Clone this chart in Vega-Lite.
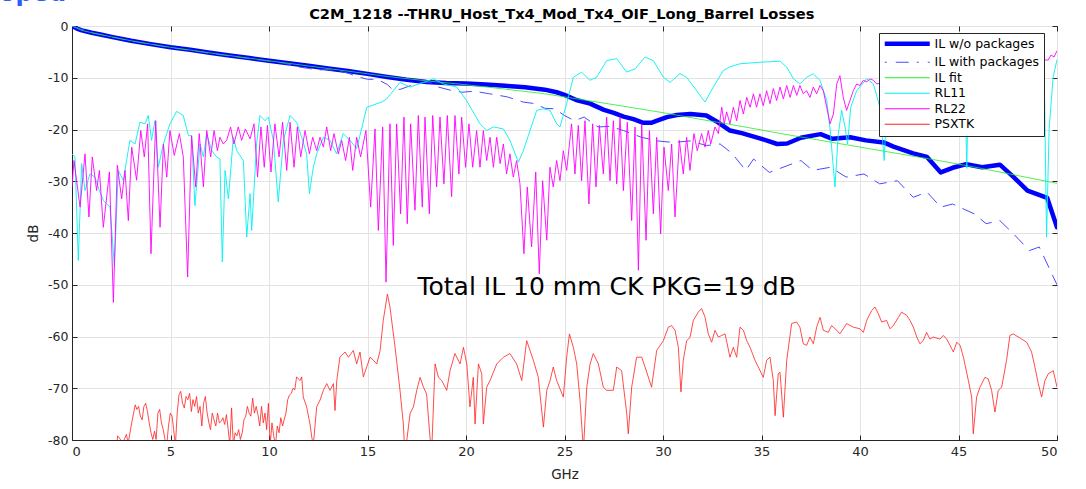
{
"$schema":"https://vega.github.io/schema/vega-lite/v6.json",
"width":985,"height":414,
"autosize":"none",
"padding":{"left":72,"top":26,"right":29,"bottom":49},
"background":"white",
"config":{"view":{"stroke":"#262626","strokeWidth":1},
 "axis":{"domainColor":"#262626","tickColor":"#262626","tickSize":-5,"grid":true,"gridColor":"#e3e3e3","labelFont":"DejaVu Sans","labelFontSize":12.5,"labelColor":"#262626","titleFont":"DejaVu Sans","titleFontSize":13.5,"titleFontWeight":"normal","titleColor":"#262626","labelExpr":"replace(datum.label, '\u2212', '-')"}},
"resolve":{"scale":{"x":"independent","y":"independent"},"axis":{"x":"independent","y":"independent"}},
"layer":[
{"encoding":{
 "x":{"field":"f","type":"quantitative","scale":{"domain":[0,50],"nice":false},"axis":{"orient":"bottom","values":[0,5,10,15,20,25,30,35,40,45,50],"title":"GHz","labelPadding":10,"labelFontSize":13,"titlePadding":9}},
 "y":{"field":"v","type":"quantitative","scale":{"domain":[-80,0],"nice":false},"axis":{"orient":"left","values":[-80,-70,-60,-50,-40,-30,-20,-10,0],"title":"dB","labelPadding":9,"titlePadding":7}},
 "color":{"field":"s","type":"nominal","scale":{"domain":["IL w/o packages","IL with packages","IL fit","RL11","RL22","PSXTK"],"range":["#0000ff","#4a4aff","#22ee22","#00f0f0","#ff00ff","#ff2020"]},
  "legend":{"title":null,"orient":"none","legendX":807,"legendY":7,"symbolType":"stroke","symbolSize":2025,"symbolOffset":17.5,"labelFont":"DejaVu Sans","labelFontSize":12.5,"labelColor":"#000000","labelAlign":"left","labelLimit":300,"fillColor":"#ffffff","strokeColor":"#262626","padding":4.5,"rowPadding":2.5,"labelOffset":21,
   "encode":{"symbols":{"update":{"strokeWidth":{"signal":"datum.value === 'IL w/o packages' ? 4.5 : 1.2"},"strokeDash":{"signal":"datum.value === 'IL with packages' ? [2,9,13,8] : [1,0]"}}}}}}
 },
 "layer":[
{"mark":{"type":"line","clip":true,"strokeWidth":4.5,"strokeJoin":"round","strokeCap":"round"},
"data":{"values":[
{"s":"IL w/o packages","f":0,"v":0},{"s":"IL w/o packages","f":0.25,"v":-0.5},{"s":"IL w/o packages","f":0.5,"v":-0.85},{"s":"IL w/o packages","f":1,"v":-1.3},{"s":"IL w/o packages","f":1.5,"v":-1.7},{"s":"IL w/o packages","f":2,"v":-2.1},{"s":"IL w/o packages","f":3,"v":-2.85},{"s":"IL w/o packages","f":4,"v":-3.5},{"s":"IL w/o packages","f":5,"v":-4.1},{"s":"IL w/o packages","f":6,"v":-4.6},{"s":"IL w/o packages","f":7,"v":-5.15},{"s":"IL w/o packages","f":8,"v":-5.7},{"s":"IL w/o packages","f":9,"v":-6.2},{"s":"IL w/o packages","f":10,"v":-6.7},{"s":"IL w/o packages","f":11,"v":-7.2},{"s":"IL w/o packages","f":12,"v":-7.7},{"s":"IL w/o packages","f":13,"v":-8.2},{"s":"IL w/o packages","f":14,"v":-8.7},{"s":"IL w/o packages","f":15,"v":-9.25},{"s":"IL w/o packages","f":16,"v":-9.85},{"s":"IL w/o packages","f":17,"v":-10.4},{"s":"IL w/o packages","f":18,"v":-10.8},{"s":"IL w/o packages","f":19,"v":-11.0},{"s":"IL w/o packages","f":20,"v":-11.1},{"s":"IL w/o packages","f":21,"v":-11.3},{"s":"IL w/o packages","f":22,"v":-11.55},{"s":"IL w/o packages","f":23,"v":-11.85},{"s":"IL w/o packages","f":24,"v":-12.3},{"s":"IL w/o packages","f":24.6,"v":-12.8},{"s":"IL w/o packages","f":25,"v":-13.3},{"s":"IL w/o packages","f":25.6,"v":-14.3},{"s":"IL w/o packages","f":26.3,"v":-15.0},{"s":"IL w/o packages","f":27,"v":-16.2},{"s":"IL w/o packages","f":27.5,"v":-16.8},{"s":"IL w/o packages","f":28,"v":-17.5},{"s":"IL w/o packages","f":28.5,"v":-18.0},{"s":"IL w/o packages","f":29,"v":-18.7},{"s":"IL w/o packages","f":29.4,"v":-18.7},{"s":"IL w/o packages","f":29.7,"v":-18.3},{"s":"IL w/o packages","f":30.2,"v":-17.6},{"s":"IL w/o packages","f":30.7,"v":-17.2},{"s":"IL w/o packages","f":31.4,"v":-17.0},{"s":"IL w/o packages","f":32.2,"v":-17.3},{"s":"IL w/o packages","f":32.7,"v":-18.4},{"s":"IL w/o packages","f":33.4,"v":-20.2},{"s":"IL w/o packages","f":34,"v":-20.7},{"s":"IL w/o packages","f":35,"v":-21.8},{"s":"IL w/o packages","f":35.8,"v":-22.8},{"s":"IL w/o packages","f":36.3,"v":-22.7},{"s":"IL w/o packages","f":37,"v":-21.6},{"s":"IL w/o packages","f":38,"v":-20.9},{"s":"IL w/o packages","f":38.6,"v":-21.8},{"s":"IL w/o packages","f":39.5,"v":-21.5},{"s":"IL w/o packages","f":40.3,"v":-22.1},{"s":"IL w/o packages","f":41.2,"v":-22.5},{"s":"IL w/o packages","f":41.7,"v":-23.3},{"s":"IL w/o packages","f":42.7,"v":-24.6},{"s":"IL w/o packages","f":43.4,"v":-25.3},{"s":"IL w/o packages","f":44.1,"v":-28.3},{"s":"IL w/o packages","f":44.7,"v":-27.4},{"s":"IL w/o packages","f":45.4,"v":-26.7},{"s":"IL w/o packages","f":46.2,"v":-27.3},{"s":"IL w/o packages","f":47.1,"v":-26.8},{"s":"IL w/o packages","f":47.8,"v":-29.2},{"s":"IL w/o packages","f":48.5,"v":-31.8},{"s":"IL w/o packages","f":49.5,"v":-33.2},{"s":"IL w/o packages","f":50,"v":-38.9}
]}},
{"mark":{"type":"line","clip":true,"strokeWidth":1,"strokeDash":[13,8]},
"data":{"values":[
{"s":"IL with packages","f":0,"v":0},{"s":"IL with packages","f":1,"v":-1.3},{"s":"IL with packages","f":2,"v":-2.1},{"s":"IL with packages","f":3,"v":-2.9},{"s":"IL with packages","f":4,"v":-3.55},{"s":"IL with packages","f":5,"v":-4.15},{"s":"IL with packages","f":6,"v":-4.7},{"s":"IL with packages","f":7,"v":-5.25},{"s":"IL with packages","f":8,"v":-5.8},{"s":"IL with packages","f":9,"v":-6.3},{"s":"IL with packages","f":10,"v":-6.8},{"s":"IL with packages","f":10.5,"v":-7.0},{"s":"IL with packages","f":11,"v":-7.4},{"s":"IL with packages","f":11.5,"v":-7.9},{"s":"IL with packages","f":12,"v":-8.2},{"s":"IL with packages","f":12.5,"v":-8.5},{"s":"IL with packages","f":13,"v":-8.4},{"s":"IL with packages","f":13.5,"v":-8.7},{"s":"IL with packages","f":14,"v":-9.1},{"s":"IL with packages","f":14.5,"v":-9.8},{"s":"IL with packages","f":15,"v":-10.3},{"s":"IL with packages","f":15.5,"v":-10.3},{"s":"IL with packages","f":16,"v":-11.3},{"s":"IL with packages","f":16.3,"v":-12.4},{"s":"IL with packages","f":16.7,"v":-12.2},{"s":"IL with packages","f":17.2,"v":-11.5},{"s":"IL with packages","f":17.8,"v":-10.9},{"s":"IL with packages","f":18.3,"v":-11.0},{"s":"IL with packages","f":18.6,"v":-11.8},{"s":"IL with packages","f":19.2,"v":-12.4},{"s":"IL with packages","f":19.8,"v":-12.8},{"s":"IL with packages","f":20.4,"v":-12.6},{"s":"IL with packages","f":21.2,"v":-13.1},{"s":"IL with packages","f":22.1,"v":-13.7},{"s":"IL with packages","f":22.9,"v":-14.7},{"s":"IL with packages","f":23.5,"v":-15.0},{"s":"IL with packages","f":24.0,"v":-15.9},{"s":"IL with packages","f":24.5,"v":-16.0},{"s":"IL with packages","f":25.0,"v":-17.3},{"s":"IL with packages","f":25.5,"v":-18.3},{"s":"IL with packages","f":26.0,"v":-17.6},{"s":"IL with packages","f":26.7,"v":-19.5},{"s":"IL with packages","f":27.3,"v":-19.4},{"s":"IL with packages","f":28,"v":-20.2},{"s":"IL with packages","f":28.9,"v":-21.5},{"s":"IL with packages","f":29.7,"v":-22.2},{"s":"IL with packages","f":30.5,"v":-22.5},{"s":"IL with packages","f":31.4,"v":-22.2},{"s":"IL with packages","f":32.2,"v":-23.1},{"s":"IL with packages","f":32.9,"v":-22.8},{"s":"IL with packages","f":33.5,"v":-24.6},{"s":"IL with packages","f":34.2,"v":-27.9},{"s":"IL with packages","f":34.6,"v":-25.7},{"s":"IL with packages","f":35.4,"v":-28.3},{"s":"IL with packages","f":36.3,"v":-27.0},{"s":"IL with packages","f":37.0,"v":-26.0},{"s":"IL with packages","f":37.6,"v":-27.9},{"s":"IL with packages","f":38.5,"v":-27.3},{"s":"IL with packages","f":39.3,"v":-29.2},{"s":"IL with packages","f":40.2,"v":-28.6},{"s":"IL with packages","f":41.0,"v":-30.5},{"s":"IL with packages","f":41.9,"v":-29.9},{"s":"IL with packages","f":42.7,"v":-33.1},{"s":"IL with packages","f":43.4,"v":-32.1},{"s":"IL with packages","f":44.1,"v":-35.0},{"s":"IL with packages","f":44.7,"v":-34.4},{"s":"IL with packages","f":45.8,"v":-36.3},{"s":"IL with packages","f":46.4,"v":-38.2},{"s":"IL with packages","f":47.1,"v":-37.6},{"s":"IL with packages","f":47.8,"v":-40.2},{"s":"IL with packages","f":48.6,"v":-43.4},{"s":"IL with packages","f":49.1,"v":-42.7},{"s":"IL with packages","f":50,"v":-50.0}
]}},
{"mark":{"type":"line","clip":true,"strokeWidth":0.8},
"data":{"values":[
{"s":"IL fit","f":0,"v":0},{"s":"IL fit","f":0.5,"v":-0.85},{"s":"IL fit","f":1,"v":-1.3},{"s":"IL fit","f":2,"v":-2.1},{"s":"IL fit","f":3,"v":-2.85},{"s":"IL fit","f":4,"v":-3.5},{"s":"IL fit","f":5,"v":-4.12},{"s":"IL fit","f":6,"v":-4.65},{"s":"IL fit","f":7,"v":-5.2},{"s":"IL fit","f":8,"v":-5.72},{"s":"IL fit","f":9,"v":-6.22},{"s":"IL fit","f":10,"v":-6.72},{"s":"IL fit","f":12,"v":-7.72},{"s":"IL fit","f":14,"v":-8.72},{"s":"IL fit","f":16,"v":-9.75},{"s":"IL fit","f":18,"v":-10.6},{"s":"IL fit","f":20,"v":-11.35},{"s":"IL fit","f":22,"v":-12.2},{"s":"IL fit","f":24,"v":-13.1},{"s":"IL fit","f":26,"v":-14.3},{"s":"IL fit","f":28,"v":-15.5},{"s":"IL fit","f":30,"v":-16.75},{"s":"IL fit","f":32,"v":-18.1},{"s":"IL fit","f":34,"v":-19.4},{"s":"IL fit","f":36,"v":-20.8},{"s":"IL fit","f":38,"v":-22.1},{"s":"IL fit","f":40,"v":-23.4},{"s":"IL fit","f":42,"v":-24.7},{"s":"IL fit","f":44,"v":-26.0},{"s":"IL fit","f":46,"v":-27.4},{"s":"IL fit","f":48,"v":-28.9},{"s":"IL fit","f":50,"v":-30.4}
]}},
{"mark":{"type":"line","clip":true,"strokeWidth":0.9},
"data":{"values":[
{"s":"RL11","f":0,"v":-24.7},{"s":"RL11","f":0.15,"v":-25.3},{"s":"RL11","f":0.32,"v":-45.3},{"s":"RL11","f":0.49,"v":-26.6},{"s":"RL11","f":0.66,"v":-31.8},{"s":"RL11","f":0.91,"v":-28.6},{"s":"RL11","f":1.17,"v":-29.2},{"s":"RL11","f":1.39,"v":-31.8},{"s":"RL11","f":1.59,"v":-33.7},{"s":"RL11","f":1.93,"v":-35.0},{"s":"RL11","f":2.15,"v":-46.3},{"s":"RL11","f":2.35,"v":-27.9},{"s":"RL11","f":2.61,"v":-29.9},{"s":"RL11","f":2.77,"v":-26.0},{"s":"RL11","f":2.94,"v":-22.1},{"s":"RL11","f":3.2,"v":-22.8},{"s":"RL11","f":3.45,"v":-18.6},{"s":"RL11","f":3.71,"v":-18.9},{"s":"RL11","f":3.87,"v":-17.3},{"s":"RL11","f":4.04,"v":-22.1},{"s":"RL11","f":4.21,"v":-18.3},{"s":"RL11","f":4.38,"v":-27.3},{"s":"RL11","f":4.64,"v":-22.8},{"s":"RL11","f":4.97,"v":-18.9},{"s":"RL11","f":5.31,"v":-16.5},{"s":"RL11","f":5.65,"v":-17.3},{"s":"RL11","f":5.91,"v":-21.2},{"s":"RL11","f":6.07,"v":-21.2},{"s":"RL11","f":6.24,"v":-34.7},{"s":"RL11","f":6.5,"v":-22.8},{"s":"RL11","f":6.67,"v":-25.3},{"s":"RL11","f":6.84,"v":-20.8},{"s":"RL11","f":7.09,"v":-24.1},{"s":"RL11","f":7.34,"v":-25.3},{"s":"RL11","f":7.51,"v":-25.7},{"s":"RL11","f":7.63,"v":-45.6},{"s":"RL11","f":7.77,"v":-27.9},{"s":"RL11","f":7.94,"v":-33.4},{"s":"RL11","f":8.19,"v":-21.5},{"s":"RL11","f":8.36,"v":-24.1},{"s":"RL11","f":8.7,"v":-26.0},{"s":"RL11","f":8.87,"v":-40.8},{"s":"RL11","f":9.04,"v":-32.4},{"s":"RL11","f":9.12,"v":-39.5},{"s":"RL11","f":9.37,"v":-22.8},{"s":"RL11","f":9.54,"v":-17.3},{"s":"RL11","f":9.8,"v":-18.3},{"s":"RL11","f":9.97,"v":-17.6},{"s":"RL11","f":10.22,"v":-22.1},{"s":"RL11","f":10.47,"v":-34.0},{"s":"RL11","f":10.73,"v":-22.1},{"s":"RL11","f":11.07,"v":-17.3},{"s":"RL11","f":11.4,"v":-18.6},{"s":"RL11","f":11.66,"v":-21.5},{"s":"RL11","f":11.91,"v":-24.7},{"s":"RL11","f":12.05,"v":-32.4},{"s":"RL11","f":12.25,"v":-27.3},{"s":"RL11","f":12.42,"v":-24.7},{"s":"RL11","f":12.76,"v":-21.5},{"s":"RL11","f":13.1,"v":-22.1},{"s":"RL11","f":13.43,"v":-24.7},{"s":"RL11","f":13.77,"v":-20.8},{"s":"RL11","f":14.11,"v":-22.1},{"s":"RL11","f":14.45,"v":-23.7},{"s":"RL11","f":14.7,"v":-19.9},{"s":"RL11","f":14.96,"v":-15.7},{"s":"RL11","f":15.21,"v":-15.4},{"s":"RL11","f":15.47,"v":-15.0},{"s":"RL11","f":15.72,"v":-14.7},{"s":"RL11","f":15.97,"v":-14.1},{"s":"RL11","f":16.31,"v":-12.5},{"s":"RL11","f":16.65,"v":-10.9},{"s":"RL11","f":17.16,"v":-11.8},{"s":"RL11","f":17.84,"v":-10.9},{"s":"RL11","f":18.35,"v":-10.2},{"s":"RL11","f":18.85,"v":-11.2},{"s":"RL11","f":19.53,"v":-11.8},{"s":"RL11","f":20.03,"v":-14.4},{"s":"RL11","f":20.37,"v":-16.65},{"s":"RL11","f":20.71,"v":-18.9},{"s":"RL11","f":21.05,"v":-20.2},{"s":"RL11","f":21.39,"v":-19.5},{"s":"RL11","f":21.9,"v":-19.9},{"s":"RL11","f":22.23,"v":-22.1},{"s":"RL11","f":22.66,"v":-26.3},{"s":"RL11","f":22.91,"v":-24.1},{"s":"RL11","f":23.25,"v":-20.2},{"s":"RL11","f":23.59,"v":-16.3},{"s":"RL11","f":23.93,"v":-16.0},{"s":"RL11","f":24.26,"v":-16.3},{"s":"RL11","f":24.6,"v":-18.9},{"s":"RL11","f":24.77,"v":-19.5},{"s":"RL11","f":25.11,"v":-15.0},{"s":"RL11","f":25.45,"v":-9.9},{"s":"RL11","f":25.87,"v":-8.9},{"s":"RL11","f":26.29,"v":-10.5},{"s":"RL11","f":26.63,"v":-9.9},{"s":"RL11","f":27.14,"v":-6.7},{"s":"RL11","f":27.65,"v":-6.3},{"s":"RL11","f":28.15,"v":-8.9},{"s":"RL11","f":28.58,"v":-8.3},{"s":"RL11","f":29.09,"v":-6.0},{"s":"RL11","f":29.51,"v":-6.7},{"s":"RL11","f":30.02,"v":-9.9},{"s":"RL11","f":30.36,"v":-10.9},{"s":"RL11","f":30.86,"v":-9.2},{"s":"RL11","f":31.2,"v":-9.9},{"s":"RL11","f":32.13,"v":-14.7},{"s":"RL11","f":32.55,"v":-11.8},{"s":"RL11","f":33.06,"v":-8.6},{"s":"RL11","f":33.4,"v":-7.9},{"s":"RL11","f":33.91,"v":-7.3},{"s":"RL11","f":34.92,"v":-7.0},{"s":"RL11","f":35.94,"v":-6.8},{"s":"RL11","f":36.28,"v":-7.95},{"s":"RL11","f":36.62,"v":-10.2},{"s":"RL11","f":36.95,"v":-11.2},{"s":"RL11","f":37.29,"v":-9.9},{"s":"RL11","f":37.63,"v":-9.24},{"s":"RL11","f":37.97,"v":-10.5},{"s":"RL11","f":38.31,"v":-14.4},{"s":"RL11","f":38.48,"v":-19.9},{"s":"RL11","f":38.73,"v":-31.1},{"s":"RL11","f":38.9,"v":-20.8},{"s":"RL11","f":39.07,"v":-16.3},{"s":"RL11","f":39.24,"v":-19.5},{"s":"RL11","f":39.37,"v":-22.8},{"s":"RL11","f":39.53,"v":-15.7},{"s":"RL11","f":39.83,"v":-12.5},{"s":"RL11","f":40.34,"v":-10.2},{"s":"RL11","f":40.68,"v":-11.2},{"s":"RL11","f":41.01,"v":-15.7},{"s":"RL11","f":41.23,"v":-26.0},{"s":"RL11","f":41.35,"v":-15.7},{"s":"RL11","f":42.0,"v":-11.0},{"s":"RL11","f":43.0,"v":-9.0},{"s":"RL11","f":44.0,"v":-8.5},{"s":"RL11","f":45.0,"v":-9.5},{"s":"RL11","f":45.33,"v":-12.0},{"s":"RL11","f":45.42,"v":-27.5},{"s":"RL11","f":45.5,"v":-12.0},{"s":"RL11","f":46.2,"v":-8.0},{"s":"RL11","f":47.2,"v":-7.0},{"s":"RL11","f":48.2,"v":-7.5},{"s":"RL11","f":49.0,"v":-9.5},{"s":"RL11","f":49.37,"v":-14.0},{"s":"RL11","f":49.47,"v":-40.8},{"s":"RL11","f":49.6,"v":-20.0},{"s":"RL11","f":49.8,"v":-10.0},{"s":"RL11","f":50,"v":-6.5}
]}},
{"mark":{"type":"line","clip":true,"strokeWidth":0.9},
"data":{"values":[
{"s":"RL22","f":0,"v":-31.1},{"s":"RL22","f":0.1,"v":-26.0},{"s":"RL22","f":0.41,"v":-35.0},{"s":"RL22","f":0.66,"v":-24.7},{"s":"RL22","f":0.86,"v":-36.9},{"s":"RL22","f":1.03,"v":-25.3},{"s":"RL22","f":1.25,"v":-31.8},{"s":"RL22","f":1.39,"v":-27.9},{"s":"RL22","f":1.59,"v":-38.9},{"s":"RL22","f":1.9,"v":-28.2},{"s":"RL22","f":2.1,"v":-53.4},{"s":"RL22","f":2.3,"v":-26.9},{"s":"RL22","f":2.52,"v":-33.4},{"s":"RL22","f":2.69,"v":-27.9},{"s":"RL22","f":2.86,"v":-37.6},{"s":"RL22","f":3.03,"v":-23.4},{"s":"RL22","f":3.28,"v":-29.8},{"s":"RL22","f":3.49,"v":-20.2},{"s":"RL22","f":3.67,"v":-25.3},{"s":"RL22","f":3.84,"v":-18.9},{"s":"RL22","f":4.01,"v":-44.0},{"s":"RL22","f":4.25,"v":-18.3},{"s":"RL22","f":4.47,"v":-38.9},{"s":"RL22","f":4.64,"v":-22.8},{"s":"RL22","f":4.81,"v":-29.2},{"s":"RL22","f":4.97,"v":-20.2},{"s":"RL22","f":5.19,"v":-25.0},{"s":"RL22","f":5.45,"v":-20.8},{"s":"RL22","f":5.65,"v":-25.3},{"s":"RL22","f":5.87,"v":-48.5},{"s":"RL22","f":6.07,"v":-21.2},{"s":"RL22","f":6.28,"v":-31.1},{"s":"RL22","f":6.46,"v":-20.8},{"s":"RL22","f":6.67,"v":-31.1},{"s":"RL22","f":6.84,"v":-20.2},{"s":"RL22","f":7.04,"v":-25.3},{"s":"RL22","f":7.21,"v":-20.2},{"s":"RL22","f":7.38,"v":-24.1},{"s":"RL22","f":7.51,"v":-21.5},{"s":"RL22","f":7.68,"v":-22.8},{"s":"RL22","f":7.85,"v":-22.1},{"s":"RL22","f":8.05,"v":-19.5},{"s":"RL22","f":8.22,"v":-22.8},{"s":"RL22","f":8.44,"v":-19.5},{"s":"RL22","f":8.61,"v":-22.1},{"s":"RL22","f":8.8,"v":-19.9},{"s":"RL22","f":9.04,"v":-21.8},{"s":"RL22","f":9.24,"v":-18.9},{"s":"RL22","f":9.42,"v":-29.2},{"s":"RL22","f":9.59,"v":-19.5},{"s":"RL22","f":9.76,"v":-27.3},{"s":"RL22","f":9.92,"v":-19.2},{"s":"RL22","f":10.1,"v":-28.2},{"s":"RL22","f":10.3,"v":-18.9},{"s":"RL22","f":10.51,"v":-25.3},{"s":"RL22","f":10.69,"v":-18.6},{"s":"RL22","f":10.9,"v":-27.9},{"s":"RL22","f":11.07,"v":-18.6},{"s":"RL22","f":11.27,"v":-27.3},{"s":"RL22","f":11.44,"v":-19.5},{"s":"RL22","f":11.61,"v":-25.3},{"s":"RL22","f":11.83,"v":-20.2},{"s":"RL22","f":12.05,"v":-24.7},{"s":"RL22","f":12.22,"v":-21.5},{"s":"RL22","f":12.42,"v":-24.1},{"s":"RL22","f":12.59,"v":-21.5},{"s":"RL22","f":12.76,"v":-23.4},{"s":"RL22","f":12.93,"v":-19.5},{"s":"RL22","f":13.13,"v":-24.1},{"s":"RL22","f":13.3,"v":-20.8},{"s":"RL22","f":13.52,"v":-24.7},{"s":"RL22","f":13.69,"v":-22.1},{"s":"RL22","f":13.89,"v":-26.0},{"s":"RL22","f":14.08,"v":-21.5},{"s":"RL22","f":14.25,"v":-27.9},{"s":"RL22","f":14.45,"v":-21.5},{"s":"RL22","f":14.65,"v":-25.3},{"s":"RL22","f":14.92,"v":-20.2},{"s":"RL22","f":15.16,"v":-35.0},{"s":"RL22","f":15.38,"v":-19.9},{"s":"RL22","f":15.55,"v":-39.5},{"s":"RL22","f":15.77,"v":-19.5},{"s":"RL22","f":15.94,"v":-49.5},{"s":"RL22","f":16.14,"v":-18.9},{"s":"RL22","f":16.31,"v":-42.4},{"s":"RL22","f":16.48,"v":-18.9},{"s":"RL22","f":16.68,"v":-36.3},{"s":"RL22","f":16.85,"v":-17.6},{"s":"RL22","f":17.02,"v":-38.2},{"s":"RL22","f":17.19,"v":-18.9},{"s":"RL22","f":17.41,"v":-35.6},{"s":"RL22","f":17.58,"v":-17.3},{"s":"RL22","f":17.78,"v":-35.0},{"s":"RL22","f":17.92,"v":-17.6},{"s":"RL22","f":18.14,"v":-36.3},{"s":"RL22","f":18.31,"v":-17.3},{"s":"RL22","f":18.51,"v":-31.1},{"s":"RL22","f":18.68,"v":-17.6},{"s":"RL22","f":18.88,"v":-30.5},{"s":"RL22","f":19.05,"v":-17.3},{"s":"RL22","f":19.27,"v":-33.0},{"s":"RL22","f":19.44,"v":-17.3},{"s":"RL22","f":19.64,"v":-28.6},{"s":"RL22","f":19.78,"v":-17.6},{"s":"RL22","f":19.98,"v":-27.3},{"s":"RL22","f":20.15,"v":-18.9},{"s":"RL22","f":20.34,"v":-27.3},{"s":"RL22","f":20.54,"v":-20.2},{"s":"RL22","f":20.71,"v":-27.3},{"s":"RL22","f":20.88,"v":-20.2},{"s":"RL22","f":21.05,"v":-26.0},{"s":"RL22","f":21.22,"v":-21.5},{"s":"RL22","f":21.39,"v":-27.3},{"s":"RL22","f":21.56,"v":-21.5},{"s":"RL22","f":21.73,"v":-26.6},{"s":"RL22","f":21.9,"v":-22.8},{"s":"RL22","f":22.06,"v":-28.6},{"s":"RL22","f":22.23,"v":-24.7},{"s":"RL22","f":22.4,"v":-29.2},{"s":"RL22","f":22.57,"v":-26.0},{"s":"RL22","f":22.74,"v":-30.5},{"s":"RL22","f":22.94,"v":-44.0},{"s":"RL22","f":23.11,"v":-31.1},{"s":"RL22","f":23.33,"v":-42.7},{"s":"RL22","f":23.54,"v":-28.2},{"s":"RL22","f":23.72,"v":-47.9},{"s":"RL22","f":23.89,"v":-29.9},{"s":"RL22","f":24.1,"v":-41.4},{"s":"RL22","f":24.26,"v":-27.3},{"s":"RL22","f":24.43,"v":-31.1},{"s":"RL22","f":24.6,"v":-26.0},{"s":"RL22","f":24.77,"v":-29.9},{"s":"RL22","f":24.94,"v":-24.1},{"s":"RL22","f":25.11,"v":-27.9},{"s":"RL22","f":25.36,"v":-18.9},{"s":"RL22","f":25.53,"v":-28.6},{"s":"RL22","f":25.7,"v":-19.2},{"s":"RL22","f":25.87,"v":-29.9},{"s":"RL22","f":26.04,"v":-18.3},{"s":"RL22","f":26.24,"v":-34.4},{"s":"RL22","f":26.43,"v":-18.9},{"s":"RL22","f":26.6,"v":-31.1},{"s":"RL22","f":26.77,"v":-19.2},{"s":"RL22","f":26.97,"v":-28.6},{"s":"RL22","f":27.14,"v":-17.6},{"s":"RL22","f":27.31,"v":-29.9},{"s":"RL22","f":27.48,"v":-18.3},{"s":"RL22","f":27.65,"v":-30.5},{"s":"RL22","f":27.82,"v":-17.6},{"s":"RL22","f":27.99,"v":-31.8},{"s":"RL22","f":28.19,"v":-18.6},{"s":"RL22","f":28.41,"v":-37.6},{"s":"RL22","f":28.58,"v":-19.5},{"s":"RL22","f":28.75,"v":-47.2},{"s":"RL22","f":28.92,"v":-18.9},{"s":"RL22","f":29.14,"v":-41.4},{"s":"RL22","f":29.31,"v":-20.2},{"s":"RL22","f":29.51,"v":-36.3},{"s":"RL22","f":29.68,"v":-21.5},{"s":"RL22","f":29.88,"v":-40.2},{"s":"RL22","f":30.05,"v":-23.4},{"s":"RL22","f":30.27,"v":-31.8},{"s":"RL22","f":30.44,"v":-22.8},{"s":"RL22","f":30.61,"v":-36.9},{"s":"RL22","f":30.83,"v":-22.1},{"s":"RL22","f":31.03,"v":-28.6},{"s":"RL22","f":31.2,"v":-21.5},{"s":"RL22","f":31.37,"v":-27.9},{"s":"RL22","f":31.57,"v":-20.8},{"s":"RL22","f":31.74,"v":-24.1},{"s":"RL22","f":31.96,"v":-20.8},{"s":"RL22","f":32.13,"v":-23.4},{"s":"RL22","f":32.3,"v":-20.2},{"s":"RL22","f":32.42,"v":-22.8},{"s":"RL22","f":32.64,"v":-19.5},{"s":"RL22","f":32.81,"v":-20.8},{"s":"RL22","f":32.98,"v":-15.7},{"s":"RL22","f":33.11,"v":-18.9},{"s":"RL22","f":33.23,"v":-16.6},{"s":"RL22","f":33.4,"v":-18.9},{"s":"RL22","f":33.57,"v":-15.7},{"s":"RL22","f":33.74,"v":-18.3},{"s":"RL22","f":33.91,"v":-14.4},{"s":"RL22","f":34.08,"v":-17.0},{"s":"RL22","f":34.25,"v":-13.8},{"s":"RL22","f":34.42,"v":-15.7},{"s":"RL22","f":34.59,"v":-13.1},{"s":"RL22","f":34.75,"v":-15.7},{"s":"RL22","f":34.92,"v":-13.1},{"s":"RL22","f":35.09,"v":-15.4},{"s":"RL22","f":35.26,"v":-12.5},{"s":"RL22","f":35.43,"v":-15.0},{"s":"RL22","f":35.6,"v":-12.1},{"s":"RL22","f":35.77,"v":-14.4},{"s":"RL22","f":35.94,"v":-11.8},{"s":"RL22","f":36.11,"v":-14.1},{"s":"RL22","f":36.28,"v":-11.5},{"s":"RL22","f":36.45,"v":-13.8},{"s":"RL22","f":36.62,"v":-11.5},{"s":"RL22","f":36.79,"v":-13.4},{"s":"RL22","f":36.95,"v":-11.5},{"s":"RL22","f":37.12,"v":-13.1},{"s":"RL22","f":37.29,"v":-12.5},{"s":"RL22","f":37.46,"v":-13.8},{"s":"RL22","f":37.63,"v":-11.8},{"s":"RL22","f":37.8,"v":-13.1},{"s":"RL22","f":37.97,"v":-11.5},{"s":"RL22","f":38.14,"v":-12.5},{"s":"RL22","f":38.31,"v":-15.7},{"s":"RL22","f":38.48,"v":-18.9},{"s":"RL22","f":38.65,"v":-17.0},{"s":"RL22","f":38.82,"v":-11.2},{"s":"RL22","f":38.98,"v":-9.6},{"s":"RL22","f":39.15,"v":-13.8},{"s":"RL22","f":39.32,"v":-16.3},{"s":"RL22","f":39.49,"v":-14.4},{"s":"RL22","f":39.66,"v":-12.5},{"s":"RL22","f":39.83,"v":-11.2},{"s":"RL22","f":40.0,"v":-11.5},{"s":"RL22","f":40.17,"v":-10.5},{"s":"RL22","f":40.34,"v":-10.8},{"s":"RL22","f":40.51,"v":-10.2},{"s":"RL22","f":40.68,"v":-10.5},{"s":"RL22","f":40.85,"v":-11.2},{"s":"RL22","f":41.5,"v":-10.5},{"s":"RL22","f":42.5,"v":-9.8},{"s":"RL22","f":43.5,"v":-9.2},{"s":"RL22","f":44.5,"v":-8.6},{"s":"RL22","f":45.5,"v":-8.2},{"s":"RL22","f":46.5,"v":-7.8},{"s":"RL22","f":47.5,"v":-7.4},{"s":"RL22","f":48.5,"v":-7.0},{"s":"RL22","f":49.3,"v":-6.5},{"s":"RL22","f":49.55,"v":-6.6},{"s":"RL22","f":49.7,"v":-5.6},{"s":"RL22","f":49.85,"v":-6.0},{"s":"RL22","f":50,"v":-4.8}
]}},
{"mark":{"type":"line","clip":true,"strokeWidth":0.8},
"data":{"values":[
{"s":"PSXTK","f":2.2,"v":-83},{"s":"PSXTK","f":2.32,"v":-79.2},{"s":"PSXTK","f":2.4,"v":-79.6},{"s":"PSXTK","f":2.58,"v":-80.6},{"s":"PSXTK","f":2.76,"v":-78.9},{"s":"PSXTK","f":2.85,"v":-80.6},{"s":"PSXTK","f":3.03,"v":-76.7},{"s":"PSXTK","f":3.21,"v":-73.2},{"s":"PSXTK","f":3.29,"v":-74.1},{"s":"PSXTK","f":3.38,"v":-73.5},{"s":"PSXTK","f":3.47,"v":-75.4},{"s":"PSXTK","f":3.56,"v":-76.1},{"s":"PSXTK","f":3.65,"v":-73.5},{"s":"PSXTK","f":3.74,"v":-72.9},{"s":"PSXTK","f":3.83,"v":-74.5},{"s":"PSXTK","f":3.92,"v":-76.7},{"s":"PSXTK","f":4.01,"v":-78.6},{"s":"PSXTK","f":4.1,"v":-79.9},{"s":"PSXTK","f":4.19,"v":-78.3},{"s":"PSXTK","f":4.27,"v":-79.9},{"s":"PSXTK","f":4.36,"v":-74.8},{"s":"PSXTK","f":4.45,"v":-74.1},{"s":"PSXTK","f":4.54,"v":-76.7},{"s":"PSXTK","f":4.63,"v":-78.0},{"s":"PSXTK","f":4.72,"v":-79.9},{"s":"PSXTK","f":4.81,"v":-80.8},{"s":"PSXTK","f":4.9,"v":-77.3},{"s":"PSXTK","f":4.99,"v":-74.8},{"s":"PSXTK","f":5.08,"v":-75.4},{"s":"PSXTK","f":5.16,"v":-78.0},{"s":"PSXTK","f":5.25,"v":-81.0},{"s":"PSXTK","f":5.34,"v":-74.8},{"s":"PSXTK","f":5.43,"v":-71.3},{"s":"PSXTK","f":5.52,"v":-70.6},{"s":"PSXTK","f":5.61,"v":-72.9},{"s":"PSXTK","f":5.7,"v":-73.8},{"s":"PSXTK","f":5.79,"v":-71.6},{"s":"PSXTK","f":5.88,"v":-72.2},{"s":"PSXTK","f":5.97,"v":-71.0},{"s":"PSXTK","f":6.06,"v":-74.5},{"s":"PSXTK","f":6.14,"v":-72.2},{"s":"PSXTK","f":6.23,"v":-73.5},{"s":"PSXTK","f":6.32,"v":-71.6},{"s":"PSXTK","f":6.41,"v":-74.8},{"s":"PSXTK","f":6.5,"v":-73.5},{"s":"PSXTK","f":6.59,"v":-77.3},{"s":"PSXTK","f":6.68,"v":-72.9},{"s":"PSXTK","f":6.77,"v":-71.6},{"s":"PSXTK","f":6.86,"v":-74.8},{"s":"PSXTK","f":6.95,"v":-76.7},{"s":"PSXTK","f":7.03,"v":-78.0},{"s":"PSXTK","f":7.12,"v":-74.8},{"s":"PSXTK","f":7.21,"v":-76.1},{"s":"PSXTK","f":7.3,"v":-77.3},{"s":"PSXTK","f":7.39,"v":-74.8},{"s":"PSXTK","f":7.48,"v":-76.7},{"s":"PSXTK","f":7.57,"v":-76.4},{"s":"PSXTK","f":7.66,"v":-75.7},{"s":"PSXTK","f":7.75,"v":-77.0},{"s":"PSXTK","f":7.84,"v":-75.1},{"s":"PSXTK","f":7.93,"v":-78.0},{"s":"PSXTK","f":8.01,"v":-81.0},{"s":"PSXTK","f":8.1,"v":-73.8},{"s":"PSXTK","f":8.19,"v":-81.0},{"s":"PSXTK","f":8.28,"v":-78.6},{"s":"PSXTK","f":8.37,"v":-79.2},{"s":"PSXTK","f":8.46,"v":-78.0},{"s":"PSXTK","f":8.55,"v":-79.9},{"s":"PSXTK","f":8.64,"v":-78.6},{"s":"PSXTK","f":8.73,"v":-76.1},{"s":"PSXTK","f":8.82,"v":-75.4},{"s":"PSXTK","f":8.9,"v":-73.5},{"s":"PSXTK","f":8.99,"v":-74.8},{"s":"PSXTK","f":9.08,"v":-75.4},{"s":"PSXTK","f":9.17,"v":-71.9},{"s":"PSXTK","f":9.26,"v":-74.8},{"s":"PSXTK","f":9.35,"v":-73.5},{"s":"PSXTK","f":9.44,"v":-75.1},{"s":"PSXTK","f":9.53,"v":-77.3},{"s":"PSXTK","f":9.62,"v":-73.5},{"s":"PSXTK","f":9.71,"v":-76.7},{"s":"PSXTK","f":9.8,"v":-74.8},{"s":"PSXTK","f":9.88,"v":-78.0},{"s":"PSXTK","f":9.97,"v":-72.9},{"s":"PSXTK","f":10.06,"v":-81.0},{"s":"PSXTK","f":10.15,"v":-76.7},{"s":"PSXTK","f":10.24,"v":-79.2},{"s":"PSXTK","f":10.33,"v":-81.0},{"s":"PSXTK","f":10.42,"v":-77.3},{"s":"PSXTK","f":10.51,"v":-78.6},{"s":"PSXTK","f":10.6,"v":-75.7},{"s":"PSXTK","f":10.69,"v":-77.3},{"s":"PSXTK","f":10.77,"v":-76.1},{"s":"PSXTK","f":10.86,"v":-74.8},{"s":"PSXTK","f":10.95,"v":-72.2},{"s":"PSXTK","f":11.04,"v":-71.3},{"s":"PSXTK","f":11.13,"v":-71.0},{"s":"PSXTK","f":11.22,"v":-70.0},{"s":"PSXTK","f":11.31,"v":-70.3},{"s":"PSXTK","f":11.4,"v":-67.8},{"s":"PSXTK","f":11.57,"v":-68.5},{"s":"PSXTK","f":11.66,"v":-67.8},{"s":"PSXTK","f":11.74,"v":-71.7},{"s":"PSXTK","f":11.91,"v":-73.6},{"s":"PSXTK","f":12.08,"v":-76.9},{"s":"PSXTK","f":12.17,"v":-79.4},{"s":"PSXTK","f":12.25,"v":-81.0},{"s":"PSXTK","f":12.42,"v":-73.6},{"s":"PSXTK","f":12.59,"v":-72.3},{"s":"PSXTK","f":12.76,"v":-70.4},{"s":"PSXTK","f":12.93,"v":-69.1},{"s":"PSXTK","f":13.1,"v":-70.4},{"s":"PSXTK","f":13.27,"v":-69.1},{"s":"PSXTK","f":13.35,"v":-74.3},{"s":"PSXTK","f":13.44,"v":-68.5},{"s":"PSXTK","f":13.6,"v":-64.0},{"s":"PSXTK","f":13.86,"v":-63.0},{"s":"PSXTK","f":14.03,"v":-64.0},{"s":"PSXTK","f":14.28,"v":-62.7},{"s":"PSXTK","f":14.45,"v":-65.3},{"s":"PSXTK","f":14.62,"v":-63.0},{"s":"PSXTK","f":14.79,"v":-67.8},{"s":"PSXTK","f":14.96,"v":-65.9},{"s":"PSXTK","f":15.13,"v":-64.0},{"s":"PSXTK","f":15.3,"v":-64.6},{"s":"PSXTK","f":15.47,"v":-65.3},{"s":"PSXTK","f":15.64,"v":-62.7},{"s":"PSXTK","f":15.8,"v":-56.9},{"s":"PSXTK","f":16.01,"v":-51.8},{"s":"PSXTK","f":16.14,"v":-54.3},{"s":"PSXTK","f":16.4,"v":-62.1},{"s":"PSXTK","f":16.65,"v":-70.4},{"s":"PSXTK","f":16.82,"v":-76.9},{"s":"PSXTK","f":16.9,"v":-83.0},{"s":"PSXTK","f":17.16,"v":-74.9},{"s":"PSXTK","f":17.33,"v":-73.6},{"s":"PSXTK","f":17.5,"v":-70.4},{"s":"PSXTK","f":17.67,"v":-67.9},{"s":"PSXTK","f":17.84,"v":-69.8},{"s":"PSXTK","f":18.0,"v":-71.1},{"s":"PSXTK","f":18.17,"v":-79.4},{"s":"PSXTK","f":18.26,"v":-82.0},{"s":"PSXTK","f":18.43,"v":-65.3},{"s":"PSXTK","f":18.6,"v":-67.9},{"s":"PSXTK","f":18.77,"v":-68.5},{"s":"PSXTK","f":19.02,"v":-70.4},{"s":"PSXTK","f":19.19,"v":-66.6},{"s":"PSXTK","f":19.44,"v":-63.3},{"s":"PSXTK","f":19.7,"v":-65.3},{"s":"PSXTK","f":19.87,"v":-62.1},{"s":"PSXTK","f":20.04,"v":-65.3},{"s":"PSXTK","f":20.2,"v":-73.6},{"s":"PSXTK","f":20.37,"v":-67.9},{"s":"PSXTK","f":20.46,"v":-76.9},{"s":"PSXTK","f":20.63,"v":-65.3},{"s":"PSXTK","f":20.8,"v":-67.2},{"s":"PSXTK","f":20.88,"v":-76.9},{"s":"PSXTK","f":21.05,"v":-69.8},{"s":"PSXTK","f":21.22,"v":-68.5},{"s":"PSXTK","f":21.56,"v":-65.3},{"s":"PSXTK","f":21.9,"v":-64.0},{"s":"PSXTK","f":22.23,"v":-63.3},{"s":"PSXTK","f":22.57,"v":-65.3},{"s":"PSXTK","f":22.83,"v":-68.5},{"s":"PSXTK","f":23.08,"v":-60.8},{"s":"PSXTK","f":23.42,"v":-64.6},{"s":"PSXTK","f":23.67,"v":-67.9},{"s":"PSXTK","f":23.93,"v":-77.5},{"s":"PSXTK","f":24.1,"v":-70.4},{"s":"PSXTK","f":24.27,"v":-68.5},{"s":"PSXTK","f":24.43,"v":-65.9},{"s":"PSXTK","f":24.6,"v":-68.5},{"s":"PSXTK","f":24.94,"v":-71.7},{"s":"PSXTK","f":25.11,"v":-64.0},{"s":"PSXTK","f":25.25,"v":-59.5},{"s":"PSXTK","f":25.45,"v":-62.1},{"s":"PSXTK","f":25.62,"v":-65.3},{"s":"PSXTK","f":25.79,"v":-72.4},{"s":"PSXTK","f":25.96,"v":-82.0},{"s":"PSXTK","f":26.13,"v":-69.8},{"s":"PSXTK","f":26.3,"v":-65.3},{"s":"PSXTK","f":26.46,"v":-63.3},{"s":"PSXTK","f":26.72,"v":-65.3},{"s":"PSXTK","f":26.97,"v":-69.8},{"s":"PSXTK","f":27.14,"v":-70.4},{"s":"PSXTK","f":27.48,"v":-70.4},{"s":"PSXTK","f":27.65,"v":-65.9},{"s":"PSXTK","f":27.9,"v":-66.6},{"s":"PSXTK","f":28.16,"v":-74.9},{"s":"PSXTK","f":28.24,"v":-78.8},{"s":"PSXTK","f":28.41,"v":-69.8},{"s":"PSXTK","f":28.66,"v":-64.0},{"s":"PSXTK","f":28.92,"v":-64.0},{"s":"PSXTK","f":29.09,"v":-65.9},{"s":"PSXTK","f":29.42,"v":-69.8},{"s":"PSXTK","f":29.68,"v":-62.7},{"s":"PSXTK","f":30.02,"v":-60.8},{"s":"PSXTK","f":30.27,"v":-58.2},{"s":"PSXTK","f":30.44,"v":-57.9},{"s":"PSXTK","f":30.61,"v":-58.8},{"s":"PSXTK","f":30.78,"v":-62.1},{"s":"PSXTK","f":30.91,"v":-70.7},{"s":"PSXTK","f":31.03,"v":-64.6},{"s":"PSXTK","f":31.2,"v":-60.8},{"s":"PSXTK","f":31.37,"v":-60.2},{"s":"PSXTK","f":31.54,"v":-56.9},{"s":"PSXTK","f":31.79,"v":-55.3},{"s":"PSXTK","f":31.96,"v":-54.6},{"s":"PSXTK","f":32.13,"v":-56.2},{"s":"PSXTK","f":32.3,"v":-59.5},{"s":"PSXTK","f":32.47,"v":-61.1},{"s":"PSXTK","f":32.64,"v":-58.8},{"s":"PSXTK","f":32.81,"v":-60.1},{"s":"PSXTK","f":32.98,"v":-59.8},{"s":"PSXTK","f":33.15,"v":-59.5},{"s":"PSXTK","f":33.4,"v":-64.0},{"s":"PSXTK","f":33.57,"v":-62.1},{"s":"PSXTK","f":33.74,"v":-64.0},{"s":"PSXTK","f":33.91,"v":-58.2},{"s":"PSXTK","f":34.08,"v":-58.8},{"s":"PSXTK","f":34.25,"v":-60.8},{"s":"PSXTK","f":34.42,"v":-62.1},{"s":"PSXTK","f":34.67,"v":-64.6},{"s":"PSXTK","f":34.84,"v":-65.9},{"s":"PSXTK","f":35.09,"v":-67.9},{"s":"PSXTK","f":35.26,"v":-64.6},{"s":"PSXTK","f":35.43,"v":-64.0},{"s":"PSXTK","f":35.6,"v":-68.5},{"s":"PSXTK","f":35.69,"v":-75.3},{"s":"PSXTK","f":35.85,"v":-67.2},{"s":"PSXTK","f":35.94,"v":-66.9},{"s":"PSXTK","f":36.11,"v":-75.6},{"s":"PSXTK","f":36.28,"v":-64.6},{"s":"PSXTK","f":36.53,"v":-57.5},{"s":"PSXTK","f":36.78,"v":-57.2},{"s":"PSXTK","f":36.95,"v":-58.2},{"s":"PSXTK","f":37.12,"v":-61.4},{"s":"PSXTK","f":37.29,"v":-61.7},{"s":"PSXTK","f":37.46,"v":-60.1},{"s":"PSXTK","f":37.63,"v":-61.4},{"s":"PSXTK","f":37.8,"v":-58.2},{"s":"PSXTK","f":37.97,"v":-56.3},{"s":"PSXTK","f":38.14,"v":-58.8},{"s":"PSXTK","f":38.39,"v":-59.2},{"s":"PSXTK","f":38.56,"v":-57.9},{"s":"PSXTK","f":38.82,"v":-58.8},{"s":"PSXTK","f":38.98,"v":-59.5},{"s":"PSXTK","f":39.32,"v":-57.5},{"s":"PSXTK","f":39.66,"v":-58.2},{"s":"PSXTK","f":40.0,"v":-58.5},{"s":"PSXTK","f":40.17,"v":-59.2},{"s":"PSXTK","f":40.34,"v":-56.9},{"s":"PSXTK","f":40.59,"v":-55.0},{"s":"PSXTK","f":40.76,"v":-54.3},{"s":"PSXTK","f":40.93,"v":-55.6},{"s":"PSXTK","f":41.1,"v":-57.2},{"s":"PSXTK","f":41.35,"v":-56.9},{"s":"PSXTK","f":41.52,"v":-58.5},{"s":"PSXTK","f":41.69,"v":-57.9},{"s":"PSXTK","f":41.95,"v":-56.3},{"s":"PSXTK","f":42.11,"v":-55.3},{"s":"PSXTK","f":42.37,"v":-55.9},{"s":"PSXTK","f":42.54,"v":-56.9},{"s":"PSXTK","f":42.71,"v":-58.2},{"s":"PSXTK","f":42.88,"v":-60.1},{"s":"PSXTK","f":43.04,"v":-61.4},{"s":"PSXTK","f":43.21,"v":-60.8},{"s":"PSXTK","f":43.38,"v":-59.2},{"s":"PSXTK","f":43.55,"v":-60.5},{"s":"PSXTK","f":43.72,"v":-60.1},{"s":"PSXTK","f":44.06,"v":-60.5},{"s":"PSXTK","f":44.23,"v":-59.8},{"s":"PSXTK","f":44.4,"v":-60.5},{"s":"PSXTK","f":44.57,"v":-61.7},{"s":"PSXTK","f":44.74,"v":-63.0},{"s":"PSXTK","f":44.91,"v":-61.1},{"s":"PSXTK","f":45.08,"v":-61.7},{"s":"PSXTK","f":45.25,"v":-64.0},{"s":"PSXTK","f":45.5,"v":-68.5},{"s":"PSXTK","f":45.67,"v":-71.7},{"s":"PSXTK","f":45.75,"v":-78.8},{"s":"PSXTK","f":45.92,"v":-71.7},{"s":"PSXTK","f":46.09,"v":-69.8},{"s":"PSXTK","f":46.34,"v":-67.9},{"s":"PSXTK","f":46.51,"v":-68.2},{"s":"PSXTK","f":46.68,"v":-70.4},{"s":"PSXTK","f":46.85,"v":-74.6},{"s":"PSXTK","f":47.02,"v":-70.4},{"s":"PSXTK","f":47.19,"v":-69.8},{"s":"PSXTK","f":47.44,"v":-64.6},{"s":"PSXTK","f":47.61,"v":-59.8},{"s":"PSXTK","f":47.78,"v":-59.5},{"s":"PSXTK","f":48.04,"v":-60.1},{"s":"PSXTK","f":48.21,"v":-60.5},{"s":"PSXTK","f":48.46,"v":-61.1},{"s":"PSXTK","f":48.71,"v":-63.0},{"s":"PSXTK","f":48.88,"v":-65.9},{"s":"PSXTK","f":49.05,"v":-69.1},{"s":"PSXTK","f":49.22,"v":-71.7},{"s":"PSXTK","f":49.39,"v":-68.5},{"s":"PSXTK","f":49.56,"v":-67.2},{"s":"PSXTK","f":49.81,"v":-66.6},{"s":"PSXTK","f":50,"v":-69.8}
]}}
 ]},
{"data":{"values":[{"label":"C2M_1218 --THRU_Host_Tx4_Mod_Tx4_OIF_Long_Barrel Losses"}]},
 "mark":{"type":"text","font":"DejaVu Sans","fontSize":14.6,"fontWeight":"bold","color":"#000000","align":"center","baseline":"alphabetic","clip":false},
 "encoding":{"x":{"datum":24.86,"type":"quantitative","scale":{"domain":[0,50],"nice":false},"axis":{"orient":"top","values":[0,5,10,15,20,25,30,35,40,45,50],"labels":false,"title":null,"grid":false,"domain":false}},
  "y":{"datum":1.29,"type":"quantitative","scale":{"domain":[-80,0],"nice":false},"axis":{"orient":"right","values":[-80,-70,-60,-50,-40,-30,-20,-10,0],"labels":false,"title":null,"grid":false,"domain":false}},
  "text":{"field":"label"}}},
{"data":{"values":[{"label":"Total IL 10 mm CK PKG=19 dB"}]},
 "mark":{"type":"text","font":"DejaVu Sans","fontSize":25,"color":"#000000","align":"center","baseline":"alphabetic"},
 "encoding":{"x":{"datum":27.14,"type":"quantitative","scale":{"domain":[0,50],"nice":false},"axis":null},"y":{"datum":-52.0,"type":"quantitative","scale":{"domain":[-80,0],"nice":false},"axis":null},"text":{"field":"label"}}},
{"data":{"values":[{"label":"oped"}]},
 "mark":{"type":"text","font":"DejaVu Sans","fontSize":24,"fontWeight":"bold","color":"#2b5cff","align":"left","baseline":"alphabetic","clip":false},
 "encoding":{"x":{"datum":-3.7,"type":"quantitative","scale":{"domain":[0,50],"nice":false},"axis":null},"y":{"datum":4.75,"type":"quantitative","scale":{"domain":[-80,0],"nice":false},"axis":null},"text":{"field":"label"}}}
]
}
